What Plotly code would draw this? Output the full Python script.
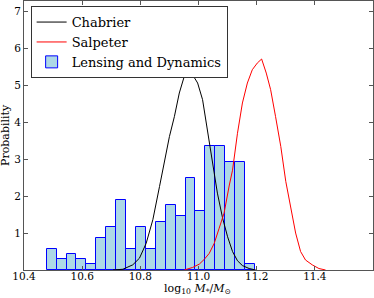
import plotly.graph_objects as go

# ---- data ----
bin_start = 10.478
bin_width = 0.0341
hist_heights = [0.58, 0.29, 0.44, 0.29, 0.15, 0.87, 1.17, 1.89, 0.58, 1.17, 0.58,
                1.31, 1.75, 1.46, 2.48, 1.60, 3.36, 3.36, 2.92, 2.92, 0.15]

chab_x = [10.706, 10.740, 10.774, 10.797, 10.820, 10.843, 10.866, 10.883, 10.900,
          10.917, 10.934, 10.951, 10.963, 10.980, 10.997, 11.014, 11.031, 11.048,
          11.065, 11.083, 11.100, 11.117, 11.134, 11.151, 11.174, 11.197]
chab_y = [0.0, 0.02, 0.14, 0.32, 0.72, 1.36, 2.26, 2.98, 3.61,
          4.15, 4.79, 5.24, 5.36, 5.28, 5.06, 4.61, 3.79, 2.89,
          2.08, 1.40, 0.90, 0.50, 0.25, 0.12, 0.04, 0.0]

salp_x = [10.951, 10.980, 11.003, 11.020, 11.037, 11.054, 11.071, 11.088, 11.106,
          11.117, 11.134, 11.151, 11.168, 11.185, 11.202, 11.217, 11.233, 11.248,
          11.265, 11.283, 11.300, 11.317, 11.334, 11.351, 11.368, 11.391, 11.414, 11.437]
salp_y = [0.0, 0.07, 0.16, 0.29, 0.45, 0.72, 1.13, 1.54, 2.30,
          2.70, 3.70, 4.52, 5.06, 5.42, 5.60, 5.71, 5.33, 4.88,
          4.15, 3.34, 2.40, 1.65, 1.00, 0.50, 0.27, 0.14, 0.04, 0.0]

x_ticks = [10.4, 10.6, 10.8, 11.0, 11.2, 11.4]
x_tick_labels = ["10.4", "10.6", "10.8", "11.0", "11.2", "11.4"]
y_ticks = [1, 2, 3, 4, 5, 6, 7]
y_tick_labels = ["1", "2", "3", "4", "5", "6", "7"]

bin_centers = [bin_start + (i + 0.5) * bin_width for i in range(len(hist_heights))]

SERIF = "DejaVu Serif"

fig = go.Figure()
fig.add_trace(go.Scatter(x=chab_x, y=chab_y, mode="lines", name="Chabrier",
                         line=dict(color="black", width=1)))
fig.add_trace(go.Scatter(x=salp_x, y=salp_y, mode="lines", name="Salpeter",
                         line=dict(color="red", width=1)))
fig.add_trace(go.Bar(x=bin_centers, y=hist_heights, width=bin_width,
                     name="Lensing and Dynamics",
                     marker=dict(color="#add8e6", line=dict(color="blue", width=1))))

axis_common = dict(showgrid=False, zeroline=False, showline=True, linecolor="#555",
                   linewidth=1, mirror="ticks", ticks="inside", ticklen=4,
                   tickcolor="#555", tickfont=dict(family=SERIF, size=10.5, color="black"))

fig.update_layout(
    width=374, height=298,
    margin=dict(l=24, r=1, t=1, b=28),
    paper_bgcolor="white", plot_bgcolor="white",
    bargap=0,
    showlegend=True,
    legend=dict(x=0.019, y=0.981, xanchor="left", yanchor="top",
                bgcolor="white", bordercolor="#333", borderwidth=1,
                font=dict(family=SERIF, size=13, color="black"),
                tracegroupgap=0),
    xaxis=dict(range=[10.4, 11.6], tickvals=x_ticks, ticktext=x_tick_labels,
               ticklabelstandoff=-4, **axis_common),
    yaxis=dict(range=[0, 7.28], tickvals=y_ticks, ticktext=y_tick_labels,
               **axis_common),
    annotations=[
        dict(text="Probability", xref="paper", yref="paper", x=0, y=0.5,
             xanchor="center", yanchor="middle", xshift=-18.5, textangle=-90,
             showarrow=False, font=dict(family=SERIF, size=11, color="black")),
        dict(text="log<sub>10</sub> <i>M</i><sub>*</sub>/<i>M</i><sub>⊙</sub>",
             xref="paper", yref="paper", x=0.497, y=0, xanchor="center",
             yanchor="middle", yshift=-19, showarrow=False,
             font=dict(family=SERIF, size=11, color="black")),
    ],
)

fig.write_html("out.html", config={"displayModeBar": False},
               post_script="document.body.style.margin='0';document.body.style.overflow='hidden';")
